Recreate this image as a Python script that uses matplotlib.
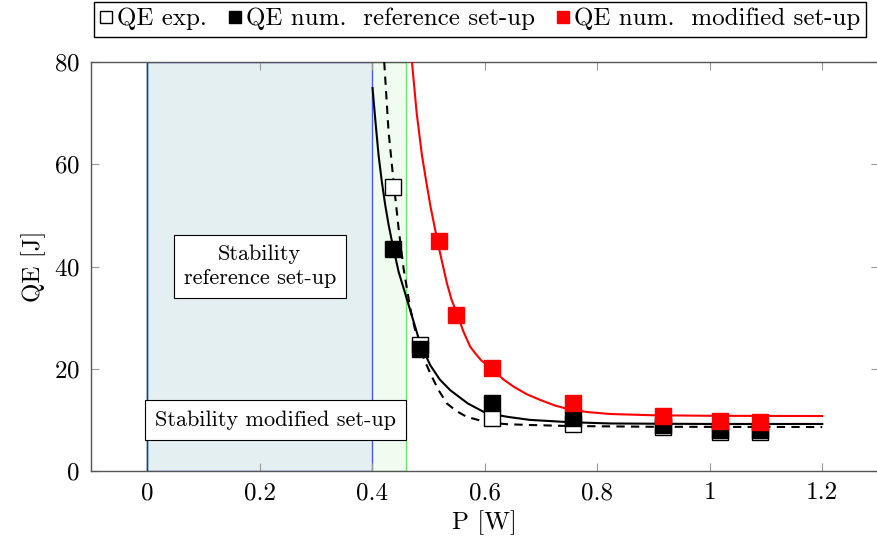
import matplotlib.pyplot as plt
from matplotlib.patches import Rectangle

plt.rcParams["font.family"] = ["cmr10", "DejaVu Serif"]
plt.rcParams["mathtext.fontset"] = "cm"
plt.rcParams["axes.formatter.use_mathtext"] = True

# measured points
p_exp = [0.437, 0.484, 0.613, 0.757, 0.917, 1.019, 1.090]
qe_exp = [55.6, 24.6, 10.4, 9.2, 8.6, 7.6, 7.6]

p_num = [0.437, 0.484, 0.613, 0.757, 0.917, 1.019, 1.090]
qe_ref = [43.4, 23.9, 13.3, 10.4, 9.0, 8.0, 8.0]
qe_mod = [45.0, 30.5, 20.2, 13.3, 10.8, 9.8, 9.5]
p_mod = [0.519, 0.549, 0.613, 0.757, 0.917, 1.019, 1.090]

# fitted curves
fit_ref_p = [0.4005, 0.406, 0.4112, 0.417, 0.4231, 0.429, 0.435, 0.4468, 0.4646, 0.4823,
             0.493, 0.5031, 0.520, 0.5387, 0.570, 0.6009, 0.640, 0.680, 0.750, 0.823,
             0.900, 1.000, 1.200]
fit_ref_q = [74.9, 68.0, 61.8, 56.6, 52.0, 48.2, 44.9, 39.0, 32.5, 26.0,
             23.1, 20.7, 17.9, 15.8, 13.2, 11.4, 10.6, 10.0, 9.55, 9.3,
             9.25, 9.2, 9.2]

fit_exp_p = [0.4213, 0.429, 0.4379, 0.4468, 0.4557, 0.4676, 0.4794, 0.491, 0.5031,
             0.518, 0.5328, 0.550, 0.568, 0.604, 0.640, 0.680, 0.750, 0.900, 1.200]
fit_exp_q = [80.0, 66.4, 56.6, 47.5, 39.6, 31.8, 26.0, 22.2, 19.1,
             15.8, 13.2, 11.7, 10.6, 9.5, 9.15, 9.0, 8.8, 8.65, 8.6]

fit_mod_p = [0.4706, 0.479, 0.4883, 0.496, 0.5031, 0.510, 0.5161, 0.5239, 0.5328, 0.541,
             0.5506, 0.562, 0.5742, 0.584, 0.594, 0.6156, 0.632, 0.6512, 0.675, 0.6987,
             0.725, 0.752, 0.785, 0.823, 0.900, 1.000, 1.200]
fit_mod_q = [80.0, 70.0, 61.8, 56.6, 52.0, 48.2, 44.9, 41.0, 36.7, 33.5,
             30.8, 27.3, 24.3, 22.9, 21.6, 19.8, 18.0, 16.5, 15.0, 13.9,
             12.8, 12.0, 11.5, 11.15, 10.9, 10.8, 10.75]

ref_stable = (0.0, 0.40)
mod_stable = (0.0, 0.46)

fig = plt.figure(figsize=(8.77, 5.48), dpi=100)
ax = fig.add_axes([91 / 877, 1 - 471 / 548, 787.5 / 877, 409 / 548])

ax.add_patch(Rectangle((mod_stable[0], 0), mod_stable[1] - mod_stable[0], 80,
                       facecolor="#f1fcf1", edgecolor="#66e866", lw=1.0, zorder=1))
ax.add_patch(Rectangle((ref_stable[0], 0), ref_stable[1] - ref_stable[0], 80,
                       facecolor="#e4eff2", edgecolor="#4a5af0", lw=1.0, zorder=1))
ax.plot([0, 0], [0, 80], color="#17407a", lw=1.0, zorder=2)

ax.plot(fit_ref_p, fit_ref_q, color="black", lw=1.5, zorder=3)
ax.plot(fit_exp_p, fit_exp_q, color="black", lw=1.5, ls=(0, (4, 3)), zorder=3)
ax.plot(fit_mod_p, fit_mod_q, color="red", lw=1.5, zorder=3)

ax.plot(p_exp, qe_exp, ls="none", marker="s", ms=11.5, mfc="white", mec="black", mew=1.0,
        zorder=4, label="QE exp.")
ax.plot(p_num, qe_ref, ls="none", marker="s", ms=11.5, mfc="black", mec="black", mew=1.0,
        zorder=5, label="QE num.  reference set-up")
ax.plot(p_mod, qe_mod, ls="none", marker="s", ms=11.5, mfc="red", mec="red", mew=1.0,
        zorder=6, label="QE num.  modified set-up")

box = dict(boxstyle="square,pad=0.45", fc="white", ec="black", lw=0.8)
ax.text(0.2, 40, "Stability\nreference set-up", ha="center", va="center",
        fontsize=16, bbox=box, zorder=7, linespacing=1.3)
ax.text(0.228, 10, "Stability modified set-up", ha="center", va="center",
        fontsize=16, bbox=box, zorder=7)

ax.set_xlim(-0.1, 1.3)
ax.set_ylim(0, 80)
ax.set_xticks([0, 0.2, 0.4, 0.6, 0.8, 1.0, 1.2])
ax.set_xticklabels(["0", "0.2", "0.4", "0.6", "0.8", "1", "1.2"])
ax.set_yticks([0, 20, 40, 60, 80])
ax.tick_params(direction="in", length=6, color="#999999", labelsize=18,
               top=True, right=True, pad=8)
for s in ax.spines.values():
    s.set_color("#555555")
    s.set_linewidth(1.0)
ax.set_xlabel("P [W]", fontsize=18, labelpad=4)
ax.set_ylabel("QE [J]", fontsize=18, labelpad=6)

leg = ax.legend(loc="center", bbox_to_anchor=(480 / 877, 1 - 19 / 548),
                bbox_transform=fig.transFigure, ncol=3, fontsize=18, frameon=True,
                fancybox=False, edgecolor="black", framealpha=1, handlelength=0.5,
                handletextpad=0.2, columnspacing=0.85, borderpad=0.25, borderaxespad=0,
                markerscale=0.8)
leg.get_frame().set_linewidth(1.0)

fig.savefig("out.png", dpi=100)
